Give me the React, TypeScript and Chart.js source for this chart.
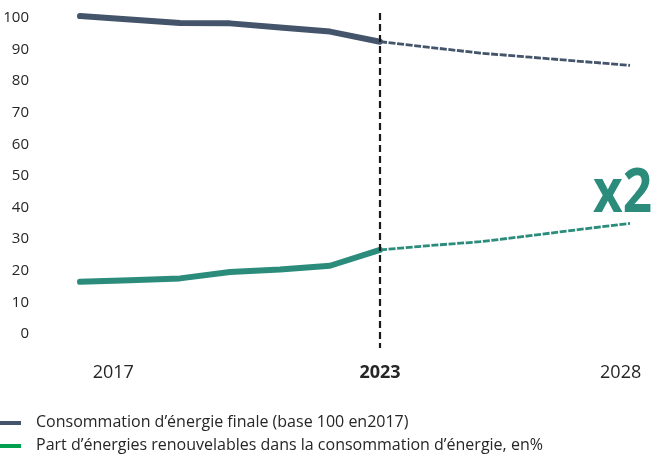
import React, { useEffect, useRef } from "react";
import { Chart, registerables } from "chart.js";

Chart.register(...registerables);

// ---- data ----
const years = [2017, 2018, 2019, 2020, 2021, 2022, 2023, 2024, 2025, 2026, 2027, 2028];
const consumption = [100.6, 99.5, 98.4, 98.3, 97.0, 95.7, 92.5, 90.7, 88.9, 87.6, 86.3, 85.0];
const renewables = [16.5, 17.0, 17.6, 19.6, 20.4, 21.6, 26.6, 28.0, 29.2, 31.1, 33.1, 35.0];
const xTickYears = [2017, 2023, 2028];
const projectionStart = 2023;
const seriesLabels = [
  "Consommation d\u2019énergie finale (base 100 en2017)",
  "Part d\u2019énergies renouvelables dans la consommation d\u2019énergie, en%",
];
const lineColors = ["#44546A", "#2B8C7B"];
const legendColors = ["#44546A", "#00A04F"];
const multiplierText = "x2";

const FONT = "'Open Sans', sans-serif";
const TEXT = "#262626";

// x tick label text tweaks (visual alignment of the reference)
const tickText = (v: number) => {
  if (v === 2017) return "\u2007\u2007\u2007\u2007\u2007\u2007 " + v;
  if (v === 2028) return v + "    ";
  return String(v);
};

const isProjection = (ctx: any) => years[ctx.p0DataIndex] >= projectionStart;

const overlayPlugin = {
  id: "overlay",
  afterDatasetsDraw(chart: any) {
    const { ctx, chartArea, scales } = chart;
    const x = scales.x.getPixelForValue(projectionStart);
    ctx.save();
    ctx.strokeStyle = "#1a1a1a";
    ctx.lineWidth = 2.2;
    ctx.setLineDash([7, 4]);
    ctx.beginPath();
    ctx.moveTo(x, chartArea.top - 5);
    ctx.lineTo(x, chartArea.bottom + 14);
    ctx.stroke();
    ctx.restore();
  },
  afterDraw(chart: any) {
    const { ctx, chartArea } = chart;
    ctx.save();
    // multiplier label
    ctx.fillStyle = lineColors[1];
    ctx.font = `bold 56px ${FONT}`;
    ctx.textAlign = "right";
    ctx.textBaseline = "alphabetic";
    const w = ctx.measureText(multiplierText).width;
    const right = chartArea.right + 22;
    const sx = 59 / w;
    ctx.translate(right, 212);
    ctx.scale(sx, 1.08);
    ctx.fillText(multiplierText, 0, 0);
    ctx.restore();

    // legend
    ctx.save();
    ctx.font = `16px ${FONT}`;
    ctx.textAlign = "left";
    ctx.textBaseline = "alphabetic";
    seriesLabels.forEach((label, i) => {
      const y = 423 + i * 23;
      ctx.strokeStyle = legendColors[i];
      ctx.lineWidth = 4;
      ctx.setLineDash([]);
      ctx.beginPath();
      ctx.moveTo(0, y);
      ctx.lineTo(21, y);
      ctx.stroke();
      ctx.fillStyle = TEXT;
      ctx.fillText(label, 36, y + 4);
    });
    ctx.restore();
  },
};

const makeDataset = (label: string, values: number[], color: string) => ({
  label,
  data: values.map((v, i) => ({ x: years[i], y: v })),
  borderColor: color,
  backgroundColor: color,
  borderWidth: 6,
  borderCapStyle: "round" as const,
  borderJoinStyle: "round" as const,
  pointRadius: 0,
  tension: 0,
  clip: false as any,
  segment: {
    borderDash: (ctx: any) => (isProjection(ctx) ? [7, 1.6] : []),
    borderWidth: (ctx: any) => (isProjection(ctx) ? 2.8 : 6),
    borderCapStyle: (ctx: any) => (isProjection(ctx) ? "butt" : "round"),
    borderJoinStyle: (ctx: any) => (isProjection(ctx) ? "miter" : "round"),
  },
});

export default function App() {
  const ref = useRef<HTMLCanvasElement | null>(null);
  useEffect(() => {
    if (!ref.current) return;
    const chart = new Chart(ref.current, {
      type: "line",
      data: {
        datasets: [
          makeDataset(seriesLabels[0], consumption, lineColors[0]),
          makeDataset(seriesLabels[1], renewables, lineColors[1]),
        ],
      },
      options: {
        animation: false,
        responsive: false,
        devicePixelRatio: 1,
        layout: { padding: { top: 18, right: 24, left: 0, bottom: 69 } },
        plugins: { legend: { display: false }, tooltip: { enabled: false } },
        scales: {
          x: {
            type: "linear",
            min: 2017,
            max: 2028,
            grid: { display: false },
            border: { display: false },
            afterBuildTicks: (scale: any) => {
              scale.ticks = xTickYears.map((v) => ({ value: v }));
            },
            afterFit: (scale: any) => {
              scale.height = 52;
              scale.paddingLeft = 0;
              scale.paddingRight = 0;
            },
            ticks: {
              autoSkip: false,
              maxRotation: 0,
              padding: 20,
              color: TEXT,
              font: (ctx: any) => ({
                family: FONT,
                size: 18,
                weight: ctx.tick && ctx.tick.value === projectionStart ? "bold" : "normal",
              }),
              callback: (v: any) => tickText(Number(v)),
            },
          },
          y: {
            min: 0,
            max: 100,
            grid: { display: false },
            border: { display: false },
            afterFit: (scale: any) => {
              scale.width = 80;
              scale.paddingTop = 0;
              scale.paddingBottom = 0;
            },
            ticks: {
              stepSize: 10,
              padding: 43,
              color: TEXT,
              font: { family: FONT, size: 15 },
            },
          },
        },
      },
      plugins: [overlayPlugin],
    });
    return () => chart.destroy();
  }, []);
  return (
    <div style={{ position: "absolute", left: 0, top: 0, width: 654, height: 455, background: "#fff" }}>
      <canvas ref={ref} width={654} height={455} />
    </div>
  );
}
